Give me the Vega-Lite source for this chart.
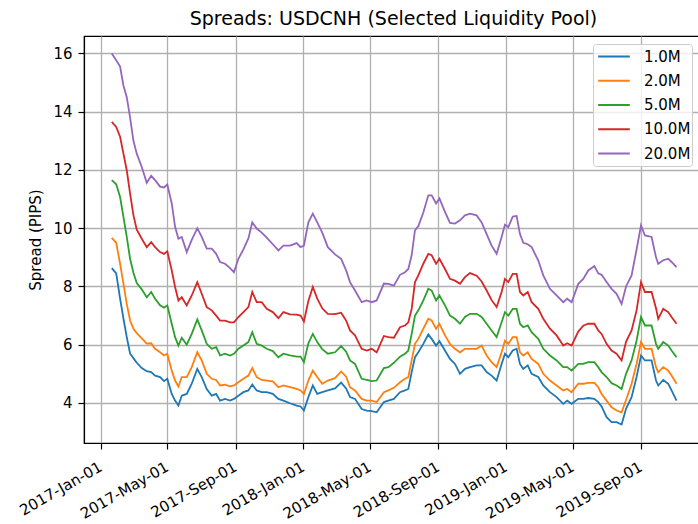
{
"$schema": "https://vega.github.io/schema/vega-lite/v6.json",
"autosize": {"type": "none"},
"padding": {"left": 84, "top": 36, "right": -3, "bottom": 81},
"width": 617,
"height": 407,
"background": "white",
"title": {"text": "Spreads: USDCNH (Selected Liquidity Pool)", "font": "DejaVu Sans", "fontSize": 19, "fontWeight": "normal", "color": "black", "anchor": "middle", "dx": 1, "baseline": "alphabetic", "offset": -8},
"config": {"view": {"stroke": "black", "strokeWidth": 1.2}, "font": "DejaVu Sans"},
"datasets": {
"d1": [
{"date":"2017-01-21","pool":"1.0M","pips":8.63},{"date":"2017-01-29","pool":"1.0M","pips":8.45},{"date":"2017-02-05","pool":"1.0M","pips":7.58},{"date":"2017-02-11","pool":"1.0M","pips":6.9},{"date":"2017-02-17","pool":"1.0M","pips":6.26},{"date":"2017-02-23","pool":"1.0M","pips":5.69},{"date":"2017-03-01","pool":"1.0M","pips":5.54},{"date":"2017-03-07","pool":"1.0M","pips":5.38},{"date":"2017-03-16","pool":"1.0M","pips":5.2},{"date":"2017-03-25","pool":"1.0M","pips":5.09},
{"date":"2017-04-02","pool":"1.0M","pips":5.06},{"date":"2017-04-09","pool":"1.0M","pips":4.94},{"date":"2017-04-18","pool":"1.0M","pips":4.89},{"date":"2017-04-25","pool":"1.0M","pips":4.75},{"date":"2017-05-01","pool":"1.0M","pips":4.83},{"date":"2017-05-09","pool":"1.0M","pips":4.31},{"date":"2017-05-15","pool":"1.0M","pips":4.08},{"date":"2017-05-21","pool":"1.0M","pips":3.91},{"date":"2017-05-27","pool":"1.0M","pips":4.25},{"date":"2017-06-05","pool":"1.0M","pips":4.31},
{"date":"2017-06-14","pool":"1.0M","pips":4.66},{"date":"2017-06-24","pool":"1.0M","pips":5.17},{"date":"2017-07-02","pool":"1.0M","pips":4.89},{"date":"2017-07-11","pool":"1.0M","pips":4.48},{"date":"2017-07-20","pool":"1.0M","pips":4.25},{"date":"2017-07-28","pool":"1.0M","pips":4.31},{"date":"2017-08-04","pool":"1.0M","pips":4.08},{"date":"2017-08-13","pool":"1.0M","pips":4.14},{"date":"2017-08-22","pool":"1.0M","pips":4.08},{"date":"2017-08-29","pool":"1.0M","pips":4.14},
{"date":"2017-09-06","pool":"1.0M","pips":4.25},{"date":"2017-09-15","pool":"1.0M","pips":4.37},{"date":"2017-09-24","pool":"1.0M","pips":4.43},{"date":"2017-10-01","pool":"1.0M","pips":4.63},{"date":"2017-10-09","pool":"1.0M","pips":4.43},{"date":"2017-10-18","pool":"1.0M","pips":4.37},{"date":"2017-10-27","pool":"1.0M","pips":4.37},{"date":"2017-11-07","pool":"1.0M","pips":4.31},{"date":"2017-11-17","pool":"1.0M","pips":4.14},{"date":"2017-11-26","pool":"1.0M","pips":4.08},
{"date":"2017-12-08","pool":"1.0M","pips":3.99},{"date":"2017-12-20","pool":"1.0M","pips":3.91},{"date":"2017-12-27","pool":"1.0M","pips":3.88},{"date":"2018-01-02","pool":"1.0M","pips":3.74},{"date":"2018-01-10","pool":"1.0M","pips":4.2},{"date":"2018-01-18","pool":"1.0M","pips":4.6},{"date":"2018-01-26","pool":"1.0M","pips":4.31},{"date":"2018-02-04","pool":"1.0M","pips":4.37},{"date":"2018-02-14","pool":"1.0M","pips":4.43},{"date":"2018-02-27","pool":"1.0M","pips":4.5},
{"date":"2018-03-10","pool":"1.0M","pips":4.7},{"date":"2018-03-19","pool":"1.0M","pips":4.5},{"date":"2018-03-26","pool":"1.0M","pips":4.2},{"date":"2018-04-04","pool":"1.0M","pips":4.14},{"date":"2018-04-16","pool":"1.0M","pips":3.79},{"date":"2018-04-25","pool":"1.0M","pips":3.74},{"date":"2018-05-04","pool":"1.0M","pips":3.72},{"date":"2018-05-13","pool":"1.0M","pips":3.68},{"date":"2018-05-26","pool":"1.0M","pips":4.03},{"date":"2018-06-03","pool":"1.0M","pips":4.08},
{"date":"2018-06-13","pool":"1.0M","pips":4.14},{"date":"2018-06-24","pool":"1.0M","pips":4.37},{"date":"2018-07-03","pool":"1.0M","pips":4.43},{"date":"2018-07-09","pool":"1.0M","pips":4.48},{"date":"2018-07-15","pool":"1.0M","pips":5.06},{"date":"2018-07-21","pool":"1.0M","pips":5.57},{"date":"2018-07-27","pool":"1.0M","pips":5.74},{"date":"2018-08-05","pool":"1.0M","pips":6.03},{"date":"2018-08-14","pool":"1.0M","pips":6.35},{"date":"2018-08-20","pool":"1.0M","pips":6.2},
{"date":"2018-08-28","pool":"1.0M","pips":5.97},{"date":"2018-09-03","pool":"1.0M","pips":6.12},{"date":"2018-09-13","pool":"1.0M","pips":5.8},{"date":"2018-09-22","pool":"1.0M","pips":5.51},{"date":"2018-10-01","pool":"1.0M","pips":5.34},{"date":"2018-10-10","pool":"1.0M","pips":5.0},{"date":"2018-10-19","pool":"1.0M","pips":5.17},{"date":"2018-10-28","pool":"1.0M","pips":5.23},{"date":"2018-11-09","pool":"1.0M","pips":5.29},{"date":"2018-11-18","pool":"1.0M","pips":5.29},
{"date":"2018-11-27","pool":"1.0M","pips":5.06},{"date":"2018-12-06","pool":"1.0M","pips":4.94},{"date":"2018-12-15","pool":"1.0M","pips":4.77},{"date":"2018-12-24","pool":"1.0M","pips":5.34},{"date":"2018-12-30","pool":"1.0M","pips":5.69},{"date":"2019-01-05","pool":"1.0M","pips":5.57},{"date":"2019-01-13","pool":"1.0M","pips":5.8},{"date":"2019-01-20","pool":"1.0M","pips":5.86},{"date":"2019-01-26","pool":"1.0M","pips":5.34},{"date":"2019-02-01","pool":"1.0M","pips":5.17},
{"date":"2019-02-09","pool":"1.0M","pips":5.29},{"date":"2019-02-16","pool":"1.0M","pips":5.0},{"date":"2019-02-28","pool":"1.0M","pips":4.89},{"date":"2019-03-09","pool":"1.0M","pips":4.6},{"date":"2019-03-21","pool":"1.0M","pips":4.37},{"date":"2019-04-02","pool":"1.0M","pips":4.2},{"date":"2019-04-14","pool":"1.0M","pips":3.97},{"date":"2019-04-21","pool":"1.0M","pips":4.08},{"date":"2019-04-29","pool":"1.0M","pips":3.97},{"date":"2019-05-11","pool":"1.0M","pips":4.14},
{"date":"2019-05-20","pool":"1.0M","pips":4.14},{"date":"2019-05-29","pool":"1.0M","pips":4.17},{"date":"2019-06-09","pool":"1.0M","pips":4.14},{"date":"2019-06-16","pool":"1.0M","pips":4.03},{"date":"2019-06-22","pool":"1.0M","pips":3.88},{"date":"2019-07-01","pool":"1.0M","pips":3.51},{"date":"2019-07-10","pool":"1.0M","pips":3.34},{"date":"2019-07-19","pool":"1.0M","pips":3.34},{"date":"2019-07-28","pool":"1.0M","pips":3.26},{"date":"2019-08-05","pool":"1.0M","pips":3.8},
{"date":"2019-08-15","pool":"1.0M","pips":4.2},{"date":"2019-08-24","pool":"1.0M","pips":4.89},{"date":"2019-09-01","pool":"1.0M","pips":5.63},{"date":"2019-09-08","pool":"1.0M","pips":5.46},{"date":"2019-09-20","pool":"1.0M","pips":5.46},{"date":"2019-09-28","pool":"1.0M","pips":4.77},{"date":"2019-10-02","pool":"1.0M","pips":4.6},{"date":"2019-10-11","pool":"1.0M","pips":4.79},{"date":"2019-10-20","pool":"1.0M","pips":4.66},{"date":"2019-10-26","pool":"1.0M","pips":4.43},
{"date":"2019-11-04","pool":"1.0M","pips":4.08},
{"date":"2017-01-21","pool":"2.0M","pips":9.67},{"date":"2017-01-29","pool":"2.0M","pips":9.5},{"date":"2017-02-05","pool":"2.0M","pips":8.78},{"date":"2017-02-11","pool":"2.0M","pips":8.1},{"date":"2017-02-17","pool":"2.0M","pips":7.4},{"date":"2017-02-23","pool":"2.0M","pips":6.83},{"date":"2017-03-01","pool":"2.0M","pips":6.55},{"date":"2017-03-07","pool":"2.0M","pips":6.4},{"date":"2017-03-16","pool":"2.0M","pips":6.22},{"date":"2017-03-25","pool":"2.0M","pips":6.04},
{"date":"2017-04-02","pool":"2.0M","pips":6.05},{"date":"2017-04-09","pool":"2.0M","pips":5.86},{"date":"2017-04-18","pool":"2.0M","pips":5.74},{"date":"2017-04-25","pool":"2.0M","pips":5.63},{"date":"2017-05-01","pool":"2.0M","pips":5.69},{"date":"2017-05-09","pool":"2.0M","pips":5.11},{"date":"2017-05-15","pool":"2.0M","pips":4.77},{"date":"2017-05-21","pool":"2.0M","pips":4.56},{"date":"2017-05-27","pool":"2.0M","pips":4.89},{"date":"2017-06-05","pool":"2.0M","pips":4.89},
{"date":"2017-06-14","pool":"2.0M","pips":5.23},{"date":"2017-06-24","pool":"2.0M","pips":5.74},{"date":"2017-07-02","pool":"2.0M","pips":5.46},{"date":"2017-07-11","pool":"2.0M","pips":5.0},{"date":"2017-07-20","pool":"2.0M","pips":4.83},{"date":"2017-07-28","pool":"2.0M","pips":4.79},{"date":"2017-08-04","pool":"2.0M","pips":4.6},{"date":"2017-08-13","pool":"2.0M","pips":4.63},{"date":"2017-08-22","pool":"2.0M","pips":4.57},{"date":"2017-08-29","pool":"2.0M","pips":4.6},
{"date":"2017-09-06","pool":"2.0M","pips":4.71},{"date":"2017-09-15","pool":"2.0M","pips":4.83},{"date":"2017-09-24","pool":"2.0M","pips":4.94},{"date":"2017-10-01","pool":"2.0M","pips":5.2},{"date":"2017-10-09","pool":"2.0M","pips":4.89},{"date":"2017-10-18","pool":"2.0M","pips":4.79},{"date":"2017-10-27","pool":"2.0M","pips":4.77},{"date":"2017-11-07","pool":"2.0M","pips":4.74},{"date":"2017-11-17","pool":"2.0M","pips":4.54},{"date":"2017-11-26","pool":"2.0M","pips":4.6},
{"date":"2017-12-08","pool":"2.0M","pips":4.54},{"date":"2017-12-20","pool":"2.0M","pips":4.48},{"date":"2017-12-27","pool":"2.0M","pips":4.43},{"date":"2018-01-02","pool":"2.0M","pips":4.31},{"date":"2018-01-10","pool":"2.0M","pips":4.77},{"date":"2018-01-18","pool":"2.0M","pips":5.11},{"date":"2018-01-26","pool":"2.0M","pips":4.89},{"date":"2018-02-04","pool":"2.0M","pips":4.66},{"date":"2018-02-14","pool":"2.0M","pips":4.77},{"date":"2018-02-27","pool":"2.0M","pips":4.85},
{"date":"2018-03-10","pool":"2.0M","pips":5.08},{"date":"2018-03-19","pool":"2.0M","pips":4.9},{"date":"2018-03-26","pool":"2.0M","pips":4.54},{"date":"2018-04-04","pool":"2.0M","pips":4.43},{"date":"2018-04-16","pool":"2.0M","pips":4.14},{"date":"2018-04-25","pool":"2.0M","pips":4.08},{"date":"2018-05-04","pool":"2.0M","pips":4.08},{"date":"2018-05-13","pool":"2.0M","pips":4.03},{"date":"2018-05-26","pool":"2.0M","pips":4.37},{"date":"2018-06-03","pool":"2.0M","pips":4.43},
{"date":"2018-06-13","pool":"2.0M","pips":4.52},{"date":"2018-06-24","pool":"2.0M","pips":4.71},{"date":"2018-07-03","pool":"2.0M","pips":4.83},{"date":"2018-07-09","pool":"2.0M","pips":4.89},{"date":"2018-07-15","pool":"2.0M","pips":5.46},{"date":"2018-07-21","pool":"2.0M","pips":6.03},{"date":"2018-07-27","pool":"2.0M","pips":6.2},{"date":"2018-08-05","pool":"2.0M","pips":6.55},{"date":"2018-08-14","pool":"2.0M","pips":6.89},{"date":"2018-08-20","pool":"2.0M","pips":6.83},
{"date":"2018-08-28","pool":"2.0M","pips":6.55},{"date":"2018-09-03","pool":"2.0M","pips":6.72},{"date":"2018-09-13","pool":"2.0M","pips":6.32},{"date":"2018-09-22","pool":"2.0M","pips":6.03},{"date":"2018-10-01","pool":"2.0M","pips":5.86},{"date":"2018-10-10","pool":"2.0M","pips":5.74},{"date":"2018-10-19","pool":"2.0M","pips":5.86},{"date":"2018-10-28","pool":"2.0M","pips":5.86},{"date":"2018-11-09","pool":"2.0M","pips":5.86},{"date":"2018-11-18","pool":"2.0M","pips":5.97},
{"date":"2018-11-27","pool":"2.0M","pips":5.63},{"date":"2018-12-06","pool":"2.0M","pips":5.4},{"date":"2018-12-15","pool":"2.0M","pips":5.23},{"date":"2018-12-24","pool":"2.0M","pips":5.74},{"date":"2018-12-30","pool":"2.0M","pips":6.14},{"date":"2019-01-05","pool":"2.0M","pips":6.03},{"date":"2019-01-13","pool":"2.0M","pips":6.26},{"date":"2019-01-20","pool":"2.0M","pips":6.26},{"date":"2019-01-26","pool":"2.0M","pips":5.74},{"date":"2019-02-01","pool":"2.0M","pips":5.63},
{"date":"2019-02-09","pool":"2.0M","pips":5.74},{"date":"2019-02-16","pool":"2.0M","pips":5.51},{"date":"2019-02-28","pool":"2.0M","pips":5.34},{"date":"2019-03-09","pool":"2.0M","pips":5.0},{"date":"2019-03-21","pool":"2.0M","pips":4.77},{"date":"2019-04-02","pool":"2.0M","pips":4.6},{"date":"2019-04-14","pool":"2.0M","pips":4.43},{"date":"2019-04-21","pool":"2.0M","pips":4.48},{"date":"2019-04-29","pool":"2.0M","pips":4.37},{"date":"2019-05-11","pool":"2.0M","pips":4.66},
{"date":"2019-05-20","pool":"2.0M","pips":4.66},{"date":"2019-05-29","pool":"2.0M","pips":4.69},{"date":"2019-06-09","pool":"2.0M","pips":4.69},{"date":"2019-06-16","pool":"2.0M","pips":4.54},{"date":"2019-06-22","pool":"2.0M","pips":4.31},{"date":"2019-07-01","pool":"2.0M","pips":4.08},{"date":"2019-07-10","pool":"2.0M","pips":3.85},{"date":"2019-07-19","pool":"2.0M","pips":3.74},{"date":"2019-07-28","pool":"2.0M","pips":3.68},{"date":"2019-08-05","pool":"2.0M","pips":4.1},
{"date":"2019-08-15","pool":"2.0M","pips":4.66},{"date":"2019-08-24","pool":"2.0M","pips":5.34},{"date":"2019-09-01","pool":"2.0M","pips":6.09},{"date":"2019-09-08","pool":"2.0M","pips":5.86},{"date":"2019-09-20","pool":"2.0M","pips":5.86},{"date":"2019-09-28","pool":"2.0M","pips":5.23},{"date":"2019-10-02","pool":"2.0M","pips":5.06},{"date":"2019-10-11","pool":"2.0M","pips":5.23},{"date":"2019-10-20","pool":"2.0M","pips":5.11},{"date":"2019-10-26","pool":"2.0M","pips":4.94},
{"date":"2019-11-04","pool":"2.0M","pips":4.66},
{"date":"2017-01-21","pool":"5.0M","pips":11.65},{"date":"2017-01-29","pool":"5.0M","pips":11.51},{"date":"2017-02-05","pool":"5.0M","pips":11.07},{"date":"2017-02-11","pool":"5.0M","pips":10.39},{"date":"2017-02-17","pool":"5.0M","pips":9.7},{"date":"2017-02-23","pool":"5.0M","pips":8.95},{"date":"2017-03-01","pool":"5.0M","pips":8.47},{"date":"2017-03-07","pool":"5.0M","pips":8.12},{"date":"2017-03-16","pool":"5.0M","pips":7.9},{"date":"2017-03-25","pool":"5.0M","pips":7.63},
{"date":"2017-04-02","pool":"5.0M","pips":7.81},{"date":"2017-04-09","pool":"5.0M","pips":7.58},{"date":"2017-04-18","pool":"5.0M","pips":7.35},{"date":"2017-04-25","pool":"5.0M","pips":7.27},{"date":"2017-05-01","pool":"5.0M","pips":7.35},{"date":"2017-05-09","pool":"5.0M","pips":6.72},{"date":"2017-05-15","pool":"5.0M","pips":6.26},{"date":"2017-05-21","pool":"5.0M","pips":5.97},{"date":"2017-05-27","pool":"5.0M","pips":6.24},{"date":"2017-06-05","pool":"5.0M","pips":6.0},
{"date":"2017-06-14","pool":"5.0M","pips":6.37},{"date":"2017-06-24","pool":"5.0M","pips":6.87},{"date":"2017-07-02","pool":"5.0M","pips":6.49},{"date":"2017-07-11","pool":"5.0M","pips":6.03},{"date":"2017-07-20","pool":"5.0M","pips":5.86},{"date":"2017-07-28","pool":"5.0M","pips":5.92},{"date":"2017-08-04","pool":"5.0M","pips":5.63},{"date":"2017-08-13","pool":"5.0M","pips":5.69},{"date":"2017-08-22","pool":"5.0M","pips":5.63},{"date":"2017-08-29","pool":"5.0M","pips":5.69},
{"date":"2017-09-06","pool":"5.0M","pips":5.86},{"date":"2017-09-15","pool":"5.0M","pips":5.97},{"date":"2017-09-24","pool":"5.0M","pips":6.09},{"date":"2017-10-01","pool":"5.0M","pips":6.43},{"date":"2017-10-09","pool":"5.0M","pips":6.03},{"date":"2017-10-18","pool":"5.0M","pips":5.97},{"date":"2017-10-27","pool":"5.0M","pips":5.86},{"date":"2017-11-07","pool":"5.0M","pips":5.78},{"date":"2017-11-17","pool":"5.0M","pips":5.57},{"date":"2017-11-26","pool":"5.0M","pips":5.69},
{"date":"2017-12-08","pool":"5.0M","pips":5.63},{"date":"2017-12-20","pool":"5.0M","pips":5.59},{"date":"2017-12-27","pool":"5.0M","pips":5.59},{"date":"2018-01-02","pool":"5.0M","pips":5.4},{"date":"2018-01-10","pool":"5.0M","pips":6.05},{"date":"2018-01-18","pool":"5.0M","pips":6.37},{"date":"2018-01-26","pool":"5.0M","pips":6.09},{"date":"2018-02-04","pool":"5.0M","pips":5.85},{"date":"2018-02-14","pool":"5.0M","pips":5.69},{"date":"2018-02-27","pool":"5.0M","pips":5.74},
{"date":"2018-03-10","pool":"5.0M","pips":5.95},{"date":"2018-03-19","pool":"5.0M","pips":5.76},{"date":"2018-03-26","pool":"5.0M","pips":5.46},{"date":"2018-04-04","pool":"5.0M","pips":5.34},{"date":"2018-04-16","pool":"5.0M","pips":4.83},{"date":"2018-04-25","pool":"5.0M","pips":4.79},{"date":"2018-05-04","pool":"5.0M","pips":4.75},{"date":"2018-05-13","pool":"5.0M","pips":4.77},{"date":"2018-05-26","pool":"5.0M","pips":5.2},{"date":"2018-06-03","pool":"5.0M","pips":5.23},
{"date":"2018-06-13","pool":"5.0M","pips":5.38},{"date":"2018-06-24","pool":"5.0M","pips":5.59},{"date":"2018-07-03","pool":"5.0M","pips":5.69},{"date":"2018-07-09","pool":"5.0M","pips":5.8},{"date":"2018-07-15","pool":"5.0M","pips":6.37},{"date":"2018-07-21","pool":"5.0M","pips":7.0},{"date":"2018-07-27","pool":"5.0M","pips":7.18},{"date":"2018-08-05","pool":"5.0M","pips":7.52},{"date":"2018-08-14","pool":"5.0M","pips":7.92},{"date":"2018-08-20","pool":"5.0M","pips":7.86},
{"date":"2018-08-28","pool":"5.0M","pips":7.52},{"date":"2018-09-03","pool":"5.0M","pips":7.69},{"date":"2018-09-13","pool":"5.0M","pips":7.35},{"date":"2018-09-22","pool":"5.0M","pips":7.0},{"date":"2018-10-01","pool":"5.0M","pips":6.89},{"date":"2018-10-10","pool":"5.0M","pips":6.72},{"date":"2018-10-19","pool":"5.0M","pips":6.95},{"date":"2018-10-28","pool":"5.0M","pips":7.06},{"date":"2018-11-09","pool":"5.0M","pips":7.06},{"date":"2018-11-18","pool":"5.0M","pips":6.95},
{"date":"2018-11-27","pool":"5.0M","pips":6.72},{"date":"2018-12-06","pool":"5.0M","pips":6.49},{"date":"2018-12-15","pool":"5.0M","pips":6.26},{"date":"2018-12-24","pool":"5.0M","pips":6.77},{"date":"2018-12-30","pool":"5.0M","pips":7.12},{"date":"2019-01-05","pool":"5.0M","pips":7.0},{"date":"2019-01-13","pool":"5.0M","pips":7.23},{"date":"2019-01-20","pool":"5.0M","pips":7.23},{"date":"2019-01-26","pool":"5.0M","pips":6.72},{"date":"2019-02-01","pool":"5.0M","pips":6.6},
{"date":"2019-02-09","pool":"5.0M","pips":6.66},{"date":"2019-02-16","pool":"5.0M","pips":6.43},{"date":"2019-02-28","pool":"5.0M","pips":6.2},{"date":"2019-03-09","pool":"5.0M","pips":5.86},{"date":"2019-03-21","pool":"5.0M","pips":5.63},{"date":"2019-04-02","pool":"5.0M","pips":5.46},{"date":"2019-04-14","pool":"5.0M","pips":5.23},{"date":"2019-04-21","pool":"5.0M","pips":5.23},{"date":"2019-04-29","pool":"5.0M","pips":5.11},{"date":"2019-05-11","pool":"5.0M","pips":5.34},
{"date":"2019-05-20","pool":"5.0M","pips":5.34},{"date":"2019-05-29","pool":"5.0M","pips":5.4},{"date":"2019-06-09","pool":"5.0M","pips":5.4},{"date":"2019-06-16","pool":"5.0M","pips":5.23},{"date":"2019-06-22","pool":"5.0M","pips":5.06},{"date":"2019-07-01","pool":"5.0M","pips":4.89},{"date":"2019-07-10","pool":"5.0M","pips":4.68},{"date":"2019-07-19","pool":"5.0M","pips":4.6},{"date":"2019-07-28","pool":"5.0M","pips":4.48},{"date":"2019-08-05","pool":"5.0M","pips":5.0},
{"date":"2019-08-15","pool":"5.0M","pips":5.46},{"date":"2019-08-24","pool":"5.0M","pips":6.14},{"date":"2019-09-01","pool":"5.0M","pips":6.95},{"date":"2019-09-08","pool":"5.0M","pips":6.66},{"date":"2019-09-20","pool":"5.0M","pips":6.66},{"date":"2019-09-28","pool":"5.0M","pips":6.03},{"date":"2019-10-02","pool":"5.0M","pips":5.86},{"date":"2019-10-11","pool":"5.0M","pips":6.09},{"date":"2019-10-20","pool":"5.0M","pips":5.97},{"date":"2019-10-26","pool":"5.0M","pips":5.8},
{"date":"2019-11-04","pool":"5.0M","pips":5.57},
{"date":"2017-01-21","pool":"10.0M","pips":13.65},{"date":"2017-01-29","pool":"10.0M","pips":13.48},{"date":"2017-02-05","pool":"10.0M","pips":13.14},{"date":"2017-02-11","pool":"10.0M","pips":12.56},{"date":"2017-02-17","pool":"10.0M","pips":11.99},{"date":"2017-02-23","pool":"10.0M","pips":11.19},{"date":"2017-03-01","pool":"10.0M","pips":10.45},{"date":"2017-03-07","pool":"10.0M","pips":9.95},{"date":"2017-03-16","pool":"10.0M","pips":9.64},{"date":"2017-03-25","pool":"10.0M","pips":9.35},
{"date":"2017-04-02","pool":"10.0M","pips":9.52},{"date":"2017-04-09","pool":"10.0M","pips":9.35},{"date":"2017-04-18","pool":"10.0M","pips":9.18},{"date":"2017-04-25","pool":"10.0M","pips":9.12},{"date":"2017-05-01","pool":"10.0M","pips":9.21},{"date":"2017-05-09","pool":"10.0M","pips":8.55},{"date":"2017-05-15","pool":"10.0M","pips":7.98},{"date":"2017-05-21","pool":"10.0M","pips":7.52},{"date":"2017-05-27","pool":"10.0M","pips":7.63},{"date":"2017-06-05","pool":"10.0M","pips":7.35},
{"date":"2017-06-14","pool":"10.0M","pips":7.69},{"date":"2017-06-24","pool":"10.0M","pips":8.15},{"date":"2017-07-02","pool":"10.0M","pips":7.75},{"date":"2017-07-11","pool":"10.0M","pips":7.29},{"date":"2017-07-20","pool":"10.0M","pips":7.18},{"date":"2017-07-28","pool":"10.0M","pips":7.0},{"date":"2017-08-04","pool":"10.0M","pips":6.83},{"date":"2017-08-13","pool":"10.0M","pips":6.83},{"date":"2017-08-22","pool":"10.0M","pips":6.77},{"date":"2017-08-29","pool":"10.0M","pips":6.77},
{"date":"2017-09-06","pool":"10.0M","pips":6.95},{"date":"2017-09-15","pool":"10.0M","pips":7.12},{"date":"2017-09-24","pool":"10.0M","pips":7.29},{"date":"2017-10-01","pool":"10.0M","pips":7.81},{"date":"2017-10-09","pool":"10.0M","pips":7.46},{"date":"2017-10-18","pool":"10.0M","pips":7.46},{"date":"2017-10-27","pool":"10.0M","pips":7.23},{"date":"2017-11-07","pool":"10.0M","pips":7.12},{"date":"2017-11-17","pool":"10.0M","pips":6.91},{"date":"2017-11-26","pool":"10.0M","pips":7.12},
{"date":"2017-12-08","pool":"10.0M","pips":7.04},{"date":"2017-12-20","pool":"10.0M","pips":7.03},{"date":"2017-12-27","pool":"10.0M","pips":7.0},{"date":"2018-01-02","pool":"10.0M","pips":6.8},{"date":"2018-01-10","pool":"10.0M","pips":7.5},{"date":"2018-01-18","pool":"10.0M","pips":7.98},{"date":"2018-01-26","pool":"10.0M","pips":7.58},{"date":"2018-02-04","pool":"10.0M","pips":7.25},{"date":"2018-02-14","pool":"10.0M","pips":7.06},{"date":"2018-02-27","pool":"10.0M","pips":7.05},
{"date":"2018-03-10","pool":"10.0M","pips":7.1},{"date":"2018-03-19","pool":"10.0M","pips":6.83},{"date":"2018-03-26","pool":"10.0M","pips":6.49},{"date":"2018-04-04","pool":"10.0M","pips":6.32},{"date":"2018-04-16","pool":"10.0M","pips":5.86},{"date":"2018-04-25","pool":"10.0M","pips":5.8},{"date":"2018-05-04","pool":"10.0M","pips":5.86},{"date":"2018-05-13","pool":"10.0M","pips":5.74},{"date":"2018-05-26","pool":"10.0M","pips":6.3},{"date":"2018-06-03","pool":"10.0M","pips":6.26},
{"date":"2018-06-13","pool":"10.0M","pips":6.24},{"date":"2018-06-24","pool":"10.0M","pips":6.6},{"date":"2018-07-03","pool":"10.0M","pips":6.66},{"date":"2018-07-09","pool":"10.0M","pips":6.77},{"date":"2018-07-15","pool":"10.0M","pips":7.23},{"date":"2018-07-21","pool":"10.0M","pips":8.15},{"date":"2018-07-27","pool":"10.0M","pips":8.38},{"date":"2018-08-05","pool":"10.0M","pips":8.78},{"date":"2018-08-14","pool":"10.0M","pips":9.12},{"date":"2018-08-20","pool":"10.0M","pips":9.07},
{"date":"2018-08-28","pool":"10.0M","pips":8.78},{"date":"2018-09-03","pool":"10.0M","pips":8.95},{"date":"2018-09-13","pool":"10.0M","pips":8.6},{"date":"2018-09-22","pool":"10.0M","pips":8.26},{"date":"2018-10-01","pool":"10.0M","pips":8.2},{"date":"2018-10-10","pool":"10.0M","pips":8.09},{"date":"2018-10-19","pool":"10.0M","pips":8.32},{"date":"2018-10-28","pool":"10.0M","pips":8.46},{"date":"2018-11-09","pool":"10.0M","pips":8.37},{"date":"2018-11-18","pool":"10.0M","pips":8.17},
{"date":"2018-11-27","pool":"10.0M","pips":7.86},{"date":"2018-12-06","pool":"10.0M","pips":7.53},{"date":"2018-12-15","pool":"10.0M","pips":7.29},{"date":"2018-12-24","pool":"10.0M","pips":7.81},{"date":"2018-12-30","pool":"10.0M","pips":8.26},{"date":"2019-01-05","pool":"10.0M","pips":8.15},{"date":"2019-01-13","pool":"10.0M","pips":8.43},{"date":"2019-01-20","pool":"10.0M","pips":8.43},{"date":"2019-01-26","pool":"10.0M","pips":7.81},{"date":"2019-02-01","pool":"10.0M","pips":7.69},
{"date":"2019-02-09","pool":"10.0M","pips":7.81},{"date":"2019-02-16","pool":"10.0M","pips":7.46},{"date":"2019-02-28","pool":"10.0M","pips":7.23},{"date":"2019-03-09","pool":"10.0M","pips":6.89},{"date":"2019-03-21","pool":"10.0M","pips":6.55},{"date":"2019-04-02","pool":"10.0M","pips":6.32},{"date":"2019-04-14","pool":"10.0M","pips":5.97},{"date":"2019-04-21","pool":"10.0M","pips":6.05},{"date":"2019-04-29","pool":"10.0M","pips":5.97},{"date":"2019-05-11","pool":"10.0M","pips":6.45},
{"date":"2019-05-20","pool":"10.0M","pips":6.65},{"date":"2019-05-29","pool":"10.0M","pips":6.72},{"date":"2019-06-09","pool":"10.0M","pips":6.72},{"date":"2019-06-16","pool":"10.0M","pips":6.49},{"date":"2019-06-22","pool":"10.0M","pips":6.37},{"date":"2019-07-01","pool":"10.0M","pips":6.03},{"date":"2019-07-10","pool":"10.0M","pips":5.8},{"date":"2019-07-19","pool":"10.0M","pips":5.69},{"date":"2019-07-28","pool":"10.0M","pips":5.46},{"date":"2019-08-05","pool":"10.0M","pips":6.1},
{"date":"2019-08-15","pool":"10.0M","pips":6.49},{"date":"2019-08-24","pool":"10.0M","pips":7.18},{"date":"2019-09-01","pool":"10.0M","pips":8.15},{"date":"2019-09-08","pool":"10.0M","pips":7.81},{"date":"2019-09-20","pool":"10.0M","pips":7.81},{"date":"2019-09-28","pool":"10.0M","pips":7.25},{"date":"2019-10-02","pool":"10.0M","pips":6.89},{"date":"2019-10-11","pool":"10.0M","pips":7.23},{"date":"2019-10-20","pool":"10.0M","pips":7.12},{"date":"2019-10-26","pool":"10.0M","pips":6.95},
{"date":"2019-11-04","pool":"10.0M","pips":6.72},
{"date":"2017-01-21","pool":"20.0M","pips":16.0},{"date":"2017-01-29","pool":"20.0M","pips":15.77},{"date":"2017-02-05","pool":"20.0M","pips":15.55},{"date":"2017-02-11","pool":"20.0M","pips":14.9},{"date":"2017-02-17","pool":"20.0M","pips":14.5},{"date":"2017-02-23","pool":"20.0M","pips":13.8},{"date":"2017-03-01","pool":"20.0M","pips":13.0},{"date":"2017-03-07","pool":"20.0M","pips":12.56},{"date":"2017-03-16","pool":"20.0M","pips":12.1},{"date":"2017-03-25","pool":"20.0M","pips":11.56},
{"date":"2017-04-02","pool":"20.0M","pips":11.8},{"date":"2017-04-09","pool":"20.0M","pips":11.65},{"date":"2017-04-18","pool":"20.0M","pips":11.43},{"date":"2017-04-25","pool":"20.0M","pips":11.4},{"date":"2017-05-01","pool":"20.0M","pips":11.5},{"date":"2017-05-09","pool":"20.0M","pips":10.85},{"date":"2017-05-15","pool":"20.0M","pips":10.05},{"date":"2017-05-21","pool":"20.0M","pips":9.64},{"date":"2017-05-27","pool":"20.0M","pips":9.7},{"date":"2017-06-05","pool":"20.0M","pips":9.18},
{"date":"2017-06-14","pool":"20.0M","pips":9.6},{"date":"2017-06-24","pool":"20.0M","pips":10.0},{"date":"2017-07-02","pool":"20.0M","pips":9.7},{"date":"2017-07-11","pool":"20.0M","pips":9.3},{"date":"2017-07-20","pool":"20.0M","pips":9.3},{"date":"2017-07-28","pool":"20.0M","pips":9.12},{"date":"2017-08-04","pool":"20.0M","pips":8.84},{"date":"2017-08-13","pool":"20.0M","pips":8.78},{"date":"2017-08-22","pool":"20.0M","pips":8.63},{"date":"2017-08-29","pool":"20.0M","pips":8.49},
{"date":"2017-09-06","pool":"20.0M","pips":8.95},{"date":"2017-09-15","pool":"20.0M","pips":9.27},{"date":"2017-09-24","pool":"20.0M","pips":9.65},{"date":"2017-10-01","pool":"20.0M","pips":10.2},{"date":"2017-10-09","pool":"20.0M","pips":9.99},{"date":"2017-10-18","pool":"20.0M","pips":9.85},{"date":"2017-10-27","pool":"20.0M","pips":9.68},{"date":"2017-11-07","pool":"20.0M","pips":9.45},{"date":"2017-11-17","pool":"20.0M","pips":9.24},{"date":"2017-11-26","pool":"20.0M","pips":9.4},
{"date":"2017-12-08","pool":"20.0M","pips":9.4},{"date":"2017-12-20","pool":"20.0M","pips":9.49},{"date":"2017-12-27","pool":"20.0M","pips":9.35},{"date":"2018-01-02","pool":"20.0M","pips":9.4},{"date":"2018-01-10","pool":"20.0M","pips":10.2},{"date":"2018-01-18","pool":"20.0M","pips":10.5},{"date":"2018-01-26","pool":"20.0M","pips":10.2},{"date":"2018-02-04","pool":"20.0M","pips":9.85},{"date":"2018-02-14","pool":"20.0M","pips":9.35},{"date":"2018-02-27","pool":"20.0M","pips":9.1},
{"date":"2018-03-10","pool":"20.0M","pips":8.95},{"date":"2018-03-19","pool":"20.0M","pips":8.55},{"date":"2018-03-26","pool":"20.0M","pips":8.15},{"date":"2018-04-04","pool":"20.0M","pips":7.86},{"date":"2018-04-16","pool":"20.0M","pips":7.46},{"date":"2018-04-25","pool":"20.0M","pips":7.52},{"date":"2018-05-04","pool":"20.0M","pips":7.46},{"date":"2018-05-13","pool":"20.0M","pips":7.52},{"date":"2018-05-26","pool":"20.0M","pips":8.1},{"date":"2018-06-03","pool":"20.0M","pips":8.09},
{"date":"2018-06-13","pool":"20.0M","pips":8.03},{"date":"2018-06-24","pool":"20.0M","pips":8.4},{"date":"2018-07-03","pool":"20.0M","pips":8.49},{"date":"2018-07-09","pool":"20.0M","pips":8.6},{"date":"2018-07-15","pool":"20.0M","pips":9.07},{"date":"2018-07-21","pool":"20.0M","pips":9.93},{"date":"2018-07-27","pool":"20.0M","pips":10.07},{"date":"2018-08-05","pool":"20.0M","pips":10.54},{"date":"2018-08-14","pool":"20.0M","pips":11.13},{"date":"2018-08-20","pool":"20.0M","pips":11.13},
{"date":"2018-08-28","pool":"20.0M","pips":10.85},{"date":"2018-09-03","pool":"20.0M","pips":11.02},{"date":"2018-09-13","pool":"20.0M","pips":10.56},{"date":"2018-09-22","pool":"20.0M","pips":10.18},{"date":"2018-10-01","pool":"20.0M","pips":10.16},{"date":"2018-10-10","pool":"20.0M","pips":10.27},{"date":"2018-10-19","pool":"20.0M","pips":10.44},{"date":"2018-10-28","pool":"20.0M","pips":10.5},{"date":"2018-11-09","pool":"20.0M","pips":10.44},{"date":"2018-11-18","pool":"20.0M","pips":10.2},
{"date":"2018-11-27","pool":"20.0M","pips":9.8},{"date":"2018-12-06","pool":"20.0M","pips":9.4},{"date":"2018-12-15","pool":"20.0M","pips":9.12},{"date":"2018-12-24","pool":"20.0M","pips":9.7},{"date":"2018-12-30","pool":"20.0M","pips":10.12},{"date":"2019-01-05","pool":"20.0M","pips":10.04},{"date":"2019-01-13","pool":"20.0M","pips":10.4},{"date":"2019-01-20","pool":"20.0M","pips":10.42},{"date":"2019-01-26","pool":"20.0M","pips":9.8},{"date":"2019-02-01","pool":"20.0M","pips":9.5},
{"date":"2019-02-09","pool":"20.0M","pips":9.45},{"date":"2019-02-16","pool":"20.0M","pips":9.35},{"date":"2019-02-28","pool":"20.0M","pips":8.89},{"date":"2019-03-09","pool":"20.0M","pips":8.38},{"date":"2019-03-21","pool":"20.0M","pips":7.92},{"date":"2019-04-02","pool":"20.0M","pips":7.69},{"date":"2019-04-14","pool":"20.0M","pips":7.46},{"date":"2019-04-21","pool":"20.0M","pips":7.58},{"date":"2019-04-29","pool":"20.0M","pips":7.46},{"date":"2019-05-11","pool":"20.0M","pips":8.09},
{"date":"2019-05-20","pool":"20.0M","pips":8.26},{"date":"2019-05-29","pool":"20.0M","pips":8.55},{"date":"2019-06-09","pool":"20.0M","pips":8.7},{"date":"2019-06-16","pool":"20.0M","pips":8.45},{"date":"2019-06-22","pool":"20.0M","pips":8.4},{"date":"2019-07-01","pool":"20.0M","pips":8.15},{"date":"2019-07-10","pool":"20.0M","pips":7.92},{"date":"2019-07-19","pool":"20.0M","pips":7.75},{"date":"2019-07-28","pool":"20.0M","pips":7.4},{"date":"2019-08-05","pool":"20.0M","pips":8.0},
{"date":"2019-08-15","pool":"20.0M","pips":8.38},{"date":"2019-08-24","pool":"20.0M","pips":9.27},{"date":"2019-09-01","pool":"20.0M","pips":10.1},{"date":"2019-09-08","pool":"20.0M","pips":9.75},{"date":"2019-09-20","pool":"20.0M","pips":9.7},{"date":"2019-09-28","pool":"20.0M","pips":9.0},{"date":"2019-10-02","pool":"20.0M","pips":8.78},{"date":"2019-10-11","pool":"20.0M","pips":8.9},{"date":"2019-10-20","pool":"20.0M","pips":8.95},{"date":"2019-10-26","pool":"20.0M","pips":8.84},
{"date":"2019-11-04","pool":"20.0M","pips":8.66}
]
},
"data": {"name": "d1"},
"mark": {"type": "line", "strokeWidth": 1.8},
"encoding": {
"x": {"field": "date", "type": "temporal",
 "scale": {"type": "utc", "domain": [{"year": 2016, "month": 12, "date": 2, "utc": true}, {"year": 2019, "month": 12, "date": 18, "utc": true}]},
 "axis": {"values": [{"year": 2017, "month": 1, "date": 1, "utc": true}, {"year": 2017, "month": 5, "date": 1, "utc": true}, {"year": 2017, "month": 9, "date": 1, "utc": true}, {"year": 2018, "month": 1, "date": 1, "utc": true}, {"year": 2018, "month": 5, "date": 1, "utc": true}, {"year": 2018, "month": 9, "date": 1, "utc": true}, {"year": 2019, "month": 1, "date": 1, "utc": true}, {"year": 2019, "month": 5, "date": 1, "utc": true}, {"year": 2019, "month": 9, "date": 1, "utc": true}],
  "format": "%Y-%b-%d", "labelAngle": -30, "labelAlign": "right", "labelBaseline": "top", "labelFontSize": 15, "labelFont": "DejaVu Sans", "labelColor": "black", "labelPadding": 10, "labelOffset": -4, "labelOverlap": false, "labelFlush": false, "labelBound": false,
  "tickColor": "black", "tickSize": 6, "tickWidth": 1.2, "domainColor": "black", "domainWidth": 1.2, "grid": true, "gridColor": "#b0b0b0", "gridWidth": 1.3, "title": null}},
"y": {"field": "pips", "type": "quantitative",
 "scale": {"domain": [2.625, 16.6], "nice": false, "zero": false},
 "axis": {"values": [4, 6, 8, 10, 12, 14, 16], "title": "Spread (PIPS)", "titleFont": "DejaVu Sans", "titleFontSize": 15, "titleFontWeight": "normal", "titleColor": "black", "titlePadding": 9,
  "labelFontSize": 15, "labelFont": "DejaVu Sans", "labelColor": "black", "labelPadding": 6, "tickSize": 6, "tickColor": "black", "tickWidth": 1.2, "domainColor": "black", "domainWidth": 1.2, "grid": true, "gridColor": "#b0b0b0", "gridWidth": 1.3}},
"color": {"field": "pool", "type": "nominal",
 "scale": {"domain": ["1.0M", "2.0M", "5.0M", "10.0M", "20.0M"], "range": ["#1f77b4", "#ff7f0e", "#2ca02c", "#d62728", "#9467bd"]},
 "legend": {"title": null, "orient": "none", "legendX": 509, "legendY": 8, "symbolType": "stroke", "symbolSize": 1000, "symbolStrokeWidth": 1.8, "clipHeight": 22, "rowPadding": 2.25, "padding": 1.5, "symbolOffset": 2.5, "labelOffset": 13, "labelFontSize": 15, "labelFont": "DejaVu Sans", "labelColor": "black", "fillColor": "rgba(255,255,255,0.8)", "strokeColor": "#cccccc", "cornerRadius": 3}}
}
}
